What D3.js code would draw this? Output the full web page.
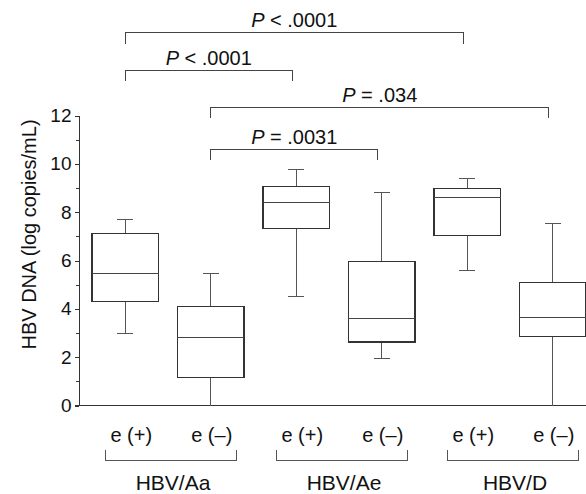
<!DOCTYPE html>
<html>
<head>
<meta charset="utf-8">
<script src="https://cdn.jsdelivr.net/npm/d3@7"></script>
<style>
  body{margin:0;background:#fff;}
  svg{display:block;font-family:"Liberation Sans",Arial,Helvetica,sans-serif;}
  .ln{fill:none;shape-rendering:crispEdges;}
</style>
</head>
<body>
<svg id="chart" width="586" height="494"></svg>
<script>
// values (log copies/mL)
const groups=["HBV/Aa","HBV/Ae","HBV/D"];
const status=["e (+)","e (\u2013)"];
const boxes=["Aa+","Aa-","Ae+","Ae-","D+","D-"];
const whiskLow=[3.0,0,4.5,1.95,5.6,0];
const q1=[4.3,1.16,7.32,2.63,7.04,2.85];
const median=[5.46,2.82,8.41,3.61,8.59,3.63];
const q3=[7.11,4.09,9.07,5.96,8.99,5.09];
const whiskHigh=[7.7,5.46,9.76,8.81,9.38,7.52];
const yTicks=[0,2,4,6,8,10,12];
const yMinor=[1,3,5,7,9,11];

// pairwise comparisons: box index from, to, p label, bracket level (data units)
const cmpFrom=[0,0,1,1];
const cmpTo=[4,2,5,3];
const cmpText=["< .0001","< .0001","= .034","= .0031"];
const cmpLevel=[15.42,13.87,12.35,10.6];

const svg=d3.select('#chart');

const x=d3.scaleBand().domain(boxes).range([92,586]).paddingInner(0.222).paddingOuter(0);
const y=d3.scaleLinear().domain([0,12]).range([405.5,115.5]);
const cx=i=>x(boxes[i])+x.bandwidth()/2;

// y axis
const axisG=svg.append('g').attr('transform','translate(79,0)');
axisG.call(d3.axisLeft(y).tickValues(yTicks).tickSize(4).tickSizeOuter(0).tickPadding(3.5));
axisG.append('g').call(d3.axisLeft(y).tickValues(yMinor).tickSize(3).tickSizeOuter(0).tickFormat(''))
  .select('.domain').remove();
axisG.selectAll('path,line').attr('stroke','#333').attr('class','ln');
axisG.selectAll('text').attr('font-size',19).attr('fill','#111')
  .style('font-family','"Liberation Sans",Arial,sans-serif');

// baseline
svg.append('line').attr('class','ln').attr('stroke','#333')
  .attr('x1',75).attr('x2',586).attr('y1',y(0)).attr('y2',y(0));

svg.append('text').attr('transform','translate(36,234.5) rotate(-90)')
  .attr('text-anchor','middle').attr('font-size',20).attr('fill','#111')
  .text('HBV DNA (log copies/mL)');

// boxes
const bw=x.bandwidth();
const g=svg.selectAll('g.box').data(boxes).join('g').attr('class','box');
g.append('line').attr('class','ln').attr('stroke','#555')
  .attr('x1',(d,i)=>cx(i)).attr('x2',(d,i)=>cx(i))
  .attr('y1',(d,i)=>y(whiskHigh[i])).attr('y2',(d,i)=>y(q3[i]));
g.append('line').attr('class','ln').attr('stroke','#555')
  .attr('x1',(d,i)=>cx(i)).attr('x2',(d,i)=>cx(i))
  .attr('y1',(d,i)=>y(q1[i])).attr('y2',(d,i)=>y(whiskLow[i]));
g.append('line').attr('class','ln').attr('stroke','#555')
  .attr('x1',(d,i)=>cx(i)-8).attr('x2',(d,i)=>cx(i)+8)
  .attr('y1',(d,i)=>y(whiskHigh[i])).attr('y2',(d,i)=>y(whiskHigh[i]));
g.filter((d,i)=>whiskLow[i]>0).append('line').attr('class','ln').attr('stroke','#555')
  .attr('x1',d=>cx(boxes.indexOf(d))-8).attr('x2',d=>cx(boxes.indexOf(d))+8)
  .attr('y1',d=>y(whiskLow[boxes.indexOf(d)])).attr('y2',d=>y(whiskLow[boxes.indexOf(d)]));
g.append('rect').attr('class','ln').attr('stroke','#333').attr('stroke-width',1.3)
  .attr('x',d=>x(d)).attr('width',bw)
  .attr('y',(d,i)=>y(q3[i])).attr('height',(d,i)=>y(q1[i])-y(q3[i]));
g.append('line').attr('class','ln').attr('stroke','#444')
  .attr('x1',d=>x(d)).attr('x2',d=>x(d)+bw)
  .attr('y1',(d,i)=>y(median[i])).attr('y2',(d,i)=>y(median[i]));

// comparison brackets
const drop=0.45;
cmpFrom.forEach((a,k)=>{
  const x1=cx(a), x2=cx(cmpTo[k])-4, ly=y(cmpLevel[k]);
  svg.append('path').attr('class','ln').attr('stroke','#444')
    .attr('d',`M${x1},${y(cmpLevel[k]-drop)}V${ly}H${x2}V${y(cmpLevel[k]-drop)}`);
  const t=svg.append('text').attr('x',(x1+x2)/2).attr('y',ly-5.5)
    .attr('text-anchor','middle').attr('font-size',20).attr('fill','#111');
  t.append('tspan').attr('font-style','italic').text('P');
  t.append('tspan').text(' '+cmpText[k]);
});

// category labels
const eOff=[6,1];
boxes.forEach((b,i)=>{
  svg.append('text').attr('x',cx(i)+eOff[i%2]).attr('y',442)
    .attr('text-anchor','middle').attr('font-size',20).attr('fill','#111')
    .text(status[i%2]);
});
groups.forEach((gName,j)=>{
  const l=cx(2*j)-19.5, r=cx(2*j+1)+25.5;
  svg.append('path').attr('class','ln').attr('stroke','#555')
    .attr('d',`M${l},450V460H${r}V450`);
  svg.append('text').attr('x',(l+r)/2+2).attr('y',490)
    .attr('text-anchor','middle').attr('font-size',21).attr('fill','#111')
    .text(gName);
});
</script>
</body>
</html>
